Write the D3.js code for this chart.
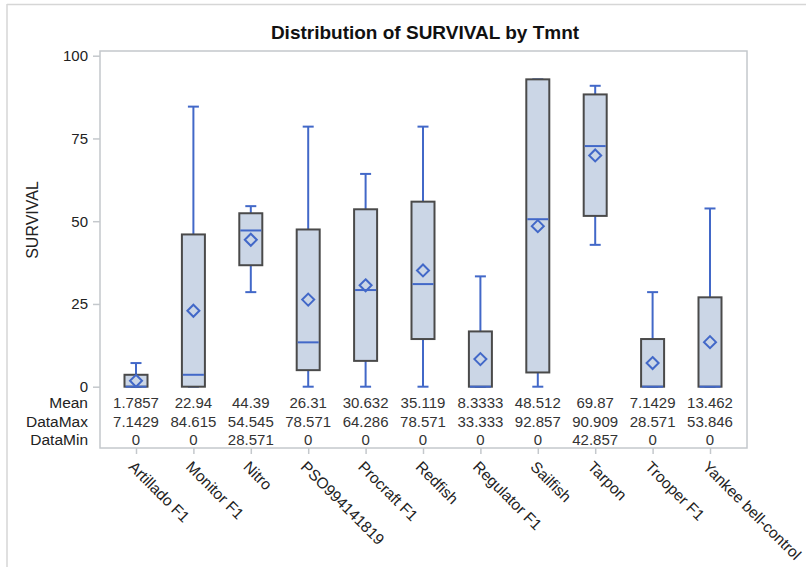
<!DOCTYPE html>
<html>
<head>
<meta charset="utf-8">
<script src="https://cdn.jsdelivr.net/npm/d3@7"></script>
<style>
  body { margin: 0; background: #fff; }
  svg { font-family: "Liberation Sans", Arial, sans-serif; }
  .tick-label { font-size: 15px; fill: #222; }
</style>
</head>
<body>
<div id="chart"></div>
<script>
// data
const categories = ['Artillado F1', 'Monitor F1', 'Nitro', 'PSO994141819', 'Procraft F1', 'Redfish',
  'Regulator F1', 'Sailfish', 'Tarpon', 'Trooper F1', 'Yankee bell-control']
const q1Values = [0, 0, 36.7, 5.0, 7.8, 14.4, 0, 4.3, 51.6, 0, 0]
const medianValues = [0, 3.6, 47.2, 13.4, 29.2, 31.0, 0, 50.6, 72.7, 0, 0]
const q3Values = [3.6, 46.0, 52.4, 47.5, 53.6, 55.9, 16.7, 92.857, 88.3, 14.4, 27.0]
const meanValues = [1.7857, 22.94, 44.39, 26.31, 30.632, 35.119, 8.3333, 48.512, 69.87, 7.1429, 13.462]
const maxValues = [7.1429, 84.615, 54.545, 78.571, 64.286, 78.571, 33.333, 92.857, 90.909, 28.571, 53.846]
const minValues = [0, 0, 28.571, 0, 0, 0, 0, 0, 42.857, 0, 0]
const meanLabels = ['1.7857', '22.94', '44.39', '26.31', '30.632', '35.119', '8.3333', '48.512', '69.87', '7.1429', '13.462']
const maxLabels = ['7.1429', '84.615', '54.545', '78.571', '64.286', '78.571', '33.333', '92.857', '90.909', '28.571', '53.846']
const minLabels = ['0', '0', '28.571', '0', '0', '0', '0', '0', '42.857', '0', '0']
const yTicks = [0, 25, 50, 75, 100]

const data = categories.map((c, i) => ({
  name: c, q1: q1Values[i], median: medianValues[i], q3: q3Values[i],
  mean: meanValues[i], max: maxValues[i], min: minValues[i]
}))

const width = 806
const height = 567

// frame
const frameLeft = 100
const frameRight = 747
const frameTop = 51
const frameBottom = 448
const plotTop = 55.7
const plotBottom = 386.7
const boxWidth = 23
const capWidth = 11

// colors
const boxFill = '#cbd6e6'
const boxStroke = '#4a4a4a'
const blue = '#4268c8'
const frameColor = '#c4c8cc'

const scaleX = d3.scalePoint()
  .domain(categories)
  .range([136, 710])

const scaleY = d3.scaleLinear()
  .domain([0, 100])
  .range([plotBottom, plotTop])

const $svg = d3.select('#chart').append('svg')
  .attr('width', width)
  .attr('height', height)

// outer border (left and top visible)
$svg.append('line').attr('x1', 7).attr('x2', 7).attr('y1', 4).attr('y2', height)
  .attr('stroke', '#d6d6d6').attr('stroke-width', 1.5)
$svg.append('line').attr('x1', 7).attr('x2', width).attr('y1', 4.5).attr('y2', 4.5)
  .attr('stroke', '#d6d6d6').attr('stroke-width', 1.5)

// title
$svg.append('text')
  .attr('x', 425)
  .attr('y', 39)
  .attr('text-anchor', 'middle')
  .style('font-size', '19px')
  .style('font-weight', 'bold')
  .style('fill', '#111')
  .text('Distribution of SURVIVAL by Tmnt')

// frame
$svg.append('rect')
  .attr('x', frameLeft)
  .attr('y', frameTop)
  .attr('width', frameRight - frameLeft)
  .attr('height', frameBottom - frameTop)
  .attr('fill', 'none')
  .attr('stroke', frameColor)
  .attr('stroke-width', 1.5)

// y axis
const $yAxis = $svg.append('g')
  .attr('transform', `translate(${frameLeft}, 0)`)
  .call(d3.axisLeft(scaleY).tickValues(yTicks).tickSize(7).tickPadding(5).tickSizeOuter(0))
$yAxis.select('.domain').remove()
$yAxis.selectAll('.tick line').attr('stroke', frameColor).attr('stroke-width', 1.5)
$yAxis.selectAll('.tick text')
  .attr('class', 'tick-label')
  .style('font-size', '15px')

$svg.append('text')
  .attr('transform', `translate(38, 220) rotate(-90)`)
  .attr('text-anchor', 'middle')
  .style('font-size', '16px')
  .style('fill', '#222')
  .text('SURVIVAL')

// x axis ticks and labels
const $xAxis = $svg.append('g')
  .attr('transform', `translate(0, ${frameBottom})`)
  .call(d3.axisBottom(scaleX).tickSize(6).tickSizeOuter(0))
$xAxis.select('.domain').remove()
$xAxis.selectAll('.tick line').attr('stroke', frameColor).attr('stroke-width', 1.5)
$xAxis.selectAll('.tick text')
  .attr('class', 'tick-label')
  .style('font-size', '15.5px')
  .attr('text-anchor', 'start')
  .attr('y', 0)
  .attr('dy', '0.35em')
  .attr('transform', 'translate(-5, 16) rotate(45)')

// boxes
const $vis = $svg.append('g').attr('class', 'g-vis')
const boxGroups = $vis.selectAll('.g-box')
  .data(data)
  .enter()
  .append('g')
  .attr('class', 'g-box')
  .attr('transform', d => `translate(${scaleX(d.name)}, 0)`)

// whiskers
boxGroups.append('line')
  .attr('x1', 0).attr('x2', 0)
  .attr('y1', d => scaleY(d.q3)).attr('y2', d => scaleY(d.max))
  .attr('stroke', blue).attr('stroke-width', 2)
boxGroups.append('line')
  .attr('x1', 0).attr('x2', 0)
  .attr('y1', d => scaleY(d.q1)).attr('y2', d => scaleY(d.min))
  .attr('stroke', blue).attr('stroke-width', 2)
boxGroups.append('line')
  .attr('x1', -capWidth / 2).attr('x2', capWidth / 2)
  .attr('y1', d => scaleY(d.max)).attr('y2', d => scaleY(d.max))
  .attr('stroke', blue).attr('stroke-width', 2)
boxGroups.append('line')
  .attr('x1', -capWidth / 2).attr('x2', capWidth / 2)
  .attr('y1', d => scaleY(d.min)).attr('y2', d => scaleY(d.min))
  .attr('stroke', blue).attr('stroke-width', 2)

boxGroups.append('rect')
  .attr('x', -boxWidth / 2)
  .attr('width', boxWidth)
  .attr('y', d => scaleY(d.q3))
  .attr('height', d => scaleY(d.q1) - scaleY(d.q3))
  .attr('fill', boxFill)
  .attr('stroke', boxStroke)
  .attr('stroke-width', 2)

// median
boxGroups.append('line')
  .attr('x1', -boxWidth / 2 + 1).attr('x2', boxWidth / 2 - 1)
  .attr('y1', d => scaleY(d.median)).attr('y2', d => scaleY(d.median))
  .attr('stroke', blue).attr('stroke-width', 2)

// mean diamond
const dm = 6
boxGroups.append('path')
  .attr('d', d => {
    const y = scaleY(d.mean)
    return `M0,${y - dm}L${dm},${y}L0,${y + dm}L${-dm},${y}Z`
  })
  .attr('fill', 'none')
  .attr('stroke', blue)
  .attr('stroke-width', 2)

// stats table
const rows = [
  { label: 'Mean', values: meanLabels, y: 403 },
  { label: 'DataMax', values: maxLabels, y: 421.5 },
  { label: 'DataMin', values: minLabels, y: 440 }
]
const $table = $svg.append('g').attr('class', 'g-table')
rows.forEach(row => {
  $table.append('text')
    .attr('x', 88)
    .attr('y', row.y)
    .attr('dy', '0.35em')
    .attr('text-anchor', 'end')
    .style('font-size', '15.5px')
    .style('fill', '#222')
    .text(row.label)
  $table.selectAll(null)
    .data(row.values)
    .enter()
    .append('text')
    .attr('x', (d, i) => scaleX(categories[i]))
    .attr('y', row.y)
    .attr('dy', '0.35em')
    .attr('text-anchor', 'middle')
    .style('font-size', '15px')
    .style('fill', '#333')
    .text(d => d)
})
</script>
</body>
</html>
